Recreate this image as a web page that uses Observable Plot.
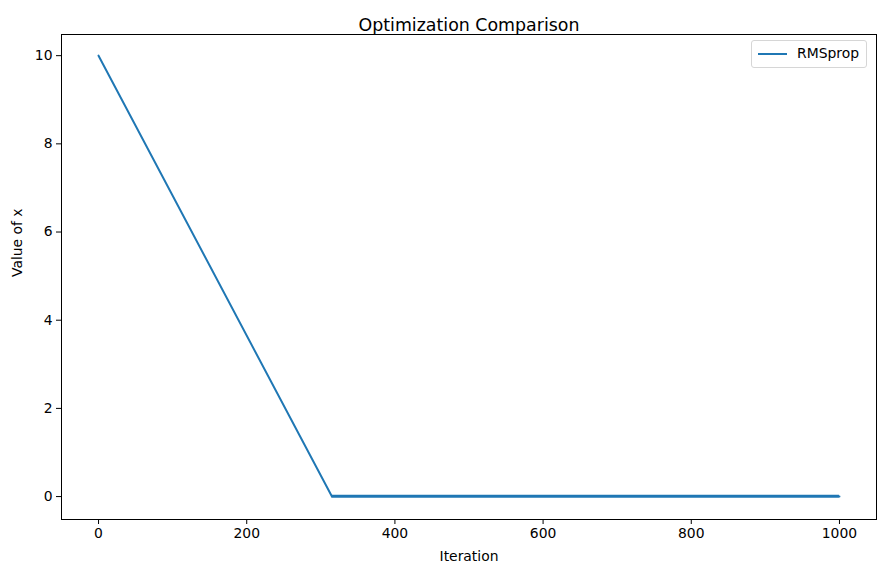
<!DOCTYPE html>
<html>
<head>
<meta charset="utf-8">
<script src="https://cdn.jsdelivr.net/npm/d3@7"></script>
<script src="https://cdn.jsdelivr.net/npm/@observablehq/plot@0.6"></script>
<style>
  body { margin: 0; background: #fff; font-family: "DejaVu Sans", sans-serif; }
  #wrap { position: relative; width: 885px; height: 575px; }
  #legend {
    position: absolute; left: 751px; top: 40px; width: 116px; height: 28px;
    border: 1px solid #d6d6d6; border-radius: 3px; background: rgba(255,255,255,0.8);
    font-size: 13.9px; color: #000; box-sizing: border-box;
  }
  #legend .sw { position: absolute; left: 6px; top: 12px; width: 29px; height: 2px; background: #1f77b4; }
  #legend .lb { position: absolute; left: 45px; top: 4px; }
</style>
</head>
<body>
<div id="wrap"><div id="legend"><div class="sw"></div><div class="lb">RMSprop</div></div></div>
<script>
// RMSprop trajectory: visible breakpoints
const iterations = [0, 315, 1000];
const values = [10, 0, 0];
// small oscillation band around 0 after convergence
const bandIter = [315, 1000];
const bandLow = [-0.03, -0.03];
const bandHigh = [0.03, 0.03];
const xTicks = [0, 200, 400, 600, 800, 1000];
const yTicks = [0, 2, 4, 6, 8, 10];

const line = iterations.map((it, i) => ({it, v: values[i]}));
const band = bandIter.map((it, i) => ({it, lo: bandLow[i], hi: bandHigh[i]}));

const chart = Plot.plot({
  width: 885,
  height: 575,
  marginLeft: 61,
  marginRight: 9,
  marginTop: 34,
  marginBottom: 56,
  style: {fontFamily: "DejaVu Sans, sans-serif", fontSize: "13.9px", color: "#000", background: "#fff"},
  x: {domain: [-50, 1050], label: null},
  y: {domain: [-0.52, 10.48], label: null},
  marks: [
    Plot.areaY(band, {x: "it", y1: "lo", y2: "hi", fill: "#1f77b4"}),
    Plot.line(line, {x: "it", y: "v", stroke: "#1f77b4", strokeWidth: 2}),
    Plot.frame({stroke: "#000", strokeWidth: 1}),
    Plot.axisX({ticks: xTicks, tickFormat: "d", tickSize: 5, tickPadding: 4, label: null, fontSize: 13.9}),
    Plot.axisY({ticks: yTicks, tickFormat: "d", tickSize: 5, tickPadding: 4, label: null, fontSize: 13.9}),
    Plot.text(["Optimization Comparison"], {frameAnchor: "top", dy: -16, fontSize: 17.4, fill: "#000"}),
    Plot.text(["Iteration"], {frameAnchor: "bottom", dy: 41, fontSize: 13.9, fill: "#000"}),
    Plot.text(["Value of x"], {frameAnchor: "left", dx: -44, rotate: -90, fontSize: 13.9, fill: "#000"})
  ]
});
document.getElementById("wrap").prepend(chart);
chart.style.position = "absolute";
chart.style.left = "0";
chart.style.top = "0";
</script>
</body>
</html>
